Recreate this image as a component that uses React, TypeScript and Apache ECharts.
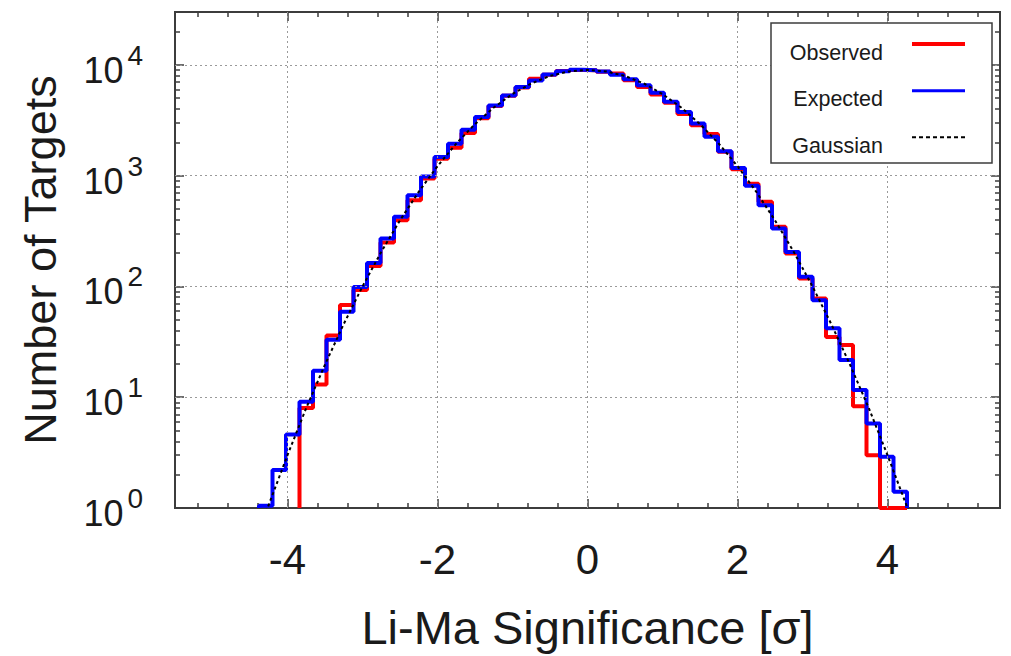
import React, { useEffect, useRef } from "react";
import * as echarts from "echarts";

// ---- data ----
const BIN_START = -4.38; // left edge of first bin [sigma]
const BIN_WIDTH = 0.18; // bin width [sigma]

// Expected counts per bin (blue)
const expected = [
  1.05, 2.2, 4.6, 9.1, 17.3, 33, 59, 99, 163, 271, 425, 665,
  980, 1470, 1940, 2590, 3380, 4300, 5300, 6300, 7230, 8180, 8770, 9020,
  8950, 8700, 8150, 7400, 6550, 5600, 4650, 3750, 2950, 2250, 1660, 1170,
  810, 540, 333, 205, 122, 75, 42, 21.7, 11.6, 5.8, 2.9, 1.4,
];

// Observed counts per bin (red); null = outside observed range
const observed = [
  null, null, null, 8, 13, 36, 68, 93, 153, 249, 396, 600,
  940, 1420, 1790, 2430, 3300, 4250, 5250, 6250, 7500, 8150, 8800, 9000,
  8950, 8650, 8350, 7250, 6300, 5400, 4550, 3600, 2850, 2380, 1640, 1140,
  847, 580, 345, 198, 118, 78, 35, 29.6, 8.3, 3.0, 0, 0,
];

// Gaussian reference curve (black dotted)
const gaussX = [
  -4.5, -4.25, -4.0, -3.75, -3.5, -3.25, -3.0, -2.75, -2.5, -2.25, -2.0, -1.75,
  -1.5, -1.25, -1.0, -0.75, -0.5, -0.25, 0, 0.25, 0.5, 0.75, 1.0, 1.25, 1.5,
  1.75, 2.0, 2.25, 2.5, 2.75, 3.0, 3.25, 3.5, 3.75, 4.0, 4.25, 4.5,
];
const gaussY = [
  0.36, 1.07, 3.0, 8.0, 19.7, 45.8, 100, 205, 395, 715, 1218, 1947,
  2922, 4120, 5459, 6793, 7942, 8723, 9000, 8723, 7942, 6793, 5459, 4120, 2922,
  1947, 1218, 715, 395, 205, 100, 45.8, 19.7, 8.0, 3.0, 1.07, 0.36,
];

// axis ranges and ticks
const X_MIN = -5.5;
const X_MAX = 5.5;
const Y_MIN = 1;
const Y_MAX = 30000;
const xMajorTicks = [-4, -2, 0, 2, 4];
const xMinorTicks = [
  -5.2, -4.8, -4.4, -3.6, -3.2, -2.8, -2.4, -1.6, -1.2, -0.8, -0.4,
  0.4, 0.8, 1.2, 1.6, 2.4, 2.8, 3.2, 3.6, 4.4, 4.8, 5.2,
];
const yMajorTicks = [1, 10, 100, 1000, 10000];
const yMinorTicks = [
  2, 3, 4, 5, 6, 7, 8, 9,
  20, 30, 40, 50, 60, 70, 80, 90,
  200, 300, 400, 500, 600, 700, 800, 900,
  2000, 3000, 4000, 5000, 6000, 7000, 8000, 9000,
  20000,
];

const seriesNames = ["Observed", "Expected", "Gaussian"];
const seriesColors = ["#ff0000", "#0000ff", "#000000"];

// ---- helpers ----
function histSteps(values: (number | null)[]): [number, number][] {
  const s = values.findIndex((v) => v !== null);
  let e = values.length - 1;
  while (e >= 0 && values[e] === null) e--;
  const edge = (i: number) => BIN_START + i * BIN_WIDTH;
  const pts: [number, number][] = [];
  pts.push([edge(s), Y_MIN]);
  for (let i = s; i <= e; i++) {
    pts.push([edge(i), Math.max(values[i] as number, Y_MIN)]);
  }
  pts.push([edge(e + 1), Math.max(values[e] as number, Y_MIN)]);
  pts.push([edge(e + 1), Y_MIN]);
  return pts;
}

const FONT = "Liberation Sans, Arial, Helvetica, sans-serif";
const FRAME = "#3c3c3c";
const TEXT = "#1a1a1a";

export default function App() {
  const ref = useRef<HTMLDivElement>(null);

  useEffect(() => {
    if (!ref.current) return;
    const chart = echarts.init(ref.current, null, { renderer: "svg" });

    const hidden = { show: false };
    const axisLine = (main: boolean) => ({
      show: main,
      onZero: false,
      lineStyle: { color: FRAME, width: 2 },
    });
    const tick = (ticks: number[], len: number) => ({
      show: true,
      inside: true,
      length: len,
      customValues: ticks,
      lineStyle: { color: FRAME, width: 1.5 },
    });

    const xAx = (position: string, ticks: number[], len: number, main: boolean, labelled: boolean) => ({
      type: "value",
      position,
      min: X_MIN,
      max: X_MAX,
      axisLine: axisLine(main),
      splitLine: hidden,
      axisTick: tick(ticks, len),
      axisLabel: labelled
        ? {
            show: true,
            customValues: xMajorTicks,
            fontSize: 42,
            fontFamily: FONT,
            color: TEXT,
            margin: 30,
          }
        : { show: false },
      ...(labelled
        ? {
            name: "Li-Ma Significance [σ]",
            nameLocation: "middle",
            nameGap: 96,
            nameTextStyle: { fontSize: 47, fontFamily: FONT, color: TEXT },
          }
        : {}),
    });

    const yAx = (position: string, ticks: number[], len: number, main: boolean, labelled: boolean) => ({
      type: "log",
      logBase: 10,
      position,
      min: Y_MIN,
      max: Y_MAX,
      axisLine: axisLine(main),
      splitLine: hidden,
      axisTick: tick(ticks, len),
      axisLabel: labelled
        ? {
            show: true,
            customValues: yMajorTicks,
            margin: 32,
            fontFamily: FONT,
            color: TEXT,
            formatter: (v: number) => {
              const e = Math.round(Math.log10(v));
              return `{sp| }{b|10}{s|${e}}`;
            },
            rich: {
              sp: { fontSize: 1, lineHeight: 47, width: 0 },
              b: { fontSize: 36, lineHeight: 36, verticalAlign: "bottom", fontFamily: FONT, color: TEXT },
              s: { fontSize: 28, lineHeight: 28, verticalAlign: "top", fontFamily: FONT, color: TEXT, padding: [0, 0, 0, 4] },
            },
          }
        : { show: false },
      ...(labelled
        ? {
            name: "Number of Targets",
            nameLocation: "middle",
            nameGap: 112,
            nameTextStyle: { fontSize: 45, fontFamily: FONT, color: TEXT },
          }
        : {}),
    });

    const gridLineStyle = { color: "#9a9a9a", width: 1, type: [2, 3] };

    // legend drawn gnuplot-style: label on the left, sample line on the right
    const LEG = { x: 771, y: 23, w: 221, h: 140, textRight: 883, lineX0: 912, lineX1: 965 };
    const legendRows = [
      { lineY: 44, textY: 53, width: 4, dash: null as null | number[] },
      { lineY: 90.7, textY: 99, width: 3, dash: null as null | number[] },
      { lineY: 137.3, textY: 146, width: 2, dash: [4, 3] },
    ];
    const legendGraphics: any[] = [
      {
        type: "rect",
        z: 100,
        shape: { x: LEG.x, y: LEG.y, width: LEG.w, height: LEG.h },
        style: { fill: "#ffffff", stroke: FRAME, lineWidth: 1.5 },
      },
    ];
    legendRows.forEach((r, i) => {
      legendGraphics.push({
        type: "text",
        z: 101,
        x: LEG.textRight,
        y: r.textY,
        style: {
          text: seriesNames[i],
          fontSize: 21.5,
          fontFamily: FONT,
          fill: TEXT,
          align: "right",
          verticalAlign: "middle",
        },
      });
      legendGraphics.push({
        type: "line",
        z: 101,
        shape: { x1: LEG.lineX0, y1: r.lineY, x2: LEG.lineX1, y2: r.lineY },
        style: { stroke: seriesColors[i], lineWidth: r.width, lineDash: r.dash || undefined },
      });
    });

    chart.setOption({
      animation: false,
      backgroundColor: "#ffffff",
      grid: {
        left: 175,
        right: 11,
        top: 12,
        bottom: 146,
        show: true,
        borderColor: FRAME,
        borderWidth: 2,
        backgroundColor: "transparent",
      },
      graphic: legendGraphics,
      xAxis: [
        xAx("bottom", xMajorTicks, 9, true, true),
        xAx("bottom", xMinorTicks, 5, false, false),
        xAx("top", xMajorTicks, 9, true, false),
        xAx("top", xMinorTicks, 5, false, false),
      ],
      yAxis: [
        yAx("left", yMajorTicks, 9, true, true),
        yAx("left", yMinorTicks, 5, false, false),
        yAx("right", yMajorTicks, 9, true, false),
        yAx("right", yMinorTicks, 5, false, false),
      ],
      series: [
        {
          name: "grid",
          type: "line",
          data: [],
          z: 1,
          silent: true,
          markLine: {
            silent: true,
            symbol: "none",
            label: { show: false },
            lineStyle: gridLineStyle,
            data: [
              ...xMajorTicks.map((v) => ({ xAxis: v })),
              ...yMajorTicks.filter((v) => v > Y_MIN).map((v) => ({ yAxis: v })),
            ],
          },
        },
        {
          name: seriesNames[0],
          type: "line",
          step: "end",
          data: histSteps(observed),
          symbol: "none",
          showSymbol: false,
          z: 3,
          lineStyle: { color: seriesColors[0], width: 4 },
          itemStyle: { color: seriesColors[0] },
        },
        {
          name: seriesNames[1],
          type: "line",
          step: "end",
          data: histSteps(expected),
          symbol: "none",
          showSymbol: false,
          z: 4,
          lineStyle: { color: seriesColors[1], width: 4 },
          itemStyle: { color: seriesColors[1] },
        },
        {
          name: seriesNames[2],
          type: "line",
          data: gaussX.map((x, i) => [x, gaussY[i]]),
          symbol: "none",
          showSymbol: false,
          z: 5,
          lineStyle: { color: seriesColors[2], width: 2, type: [3, 3] },
          itemStyle: { color: seriesColors[2] },
        },
      ],
    });

    return () => chart.dispose();
  }, []);

  return (
    <div
      ref={ref}
      style={{ position: "fixed", left: 0, top: 0, width: 1011, height: 656, background: "#fff" }}
    />
  );
}
